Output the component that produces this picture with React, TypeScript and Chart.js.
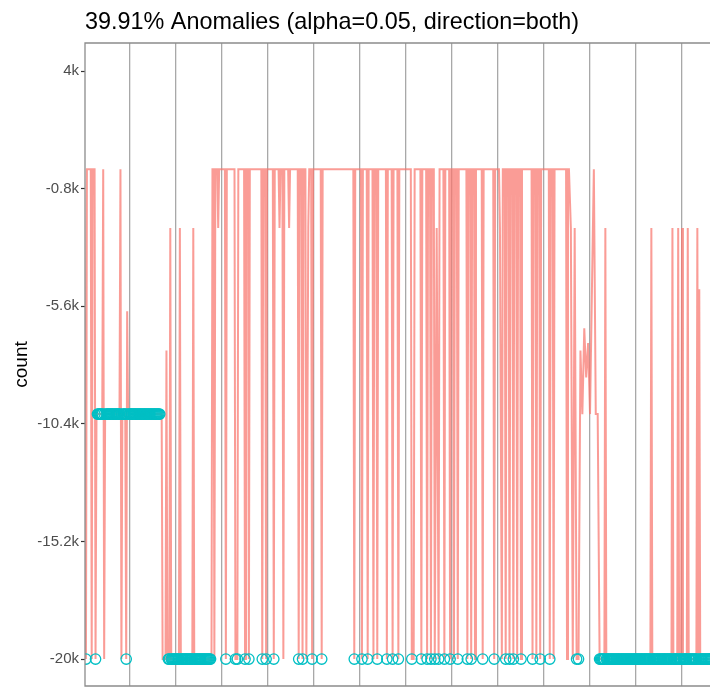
import React, { useEffect, useRef } from "react";
import { Chart, registerables } from "chart.js";

Chart.register(...registerables);

const TITLE = "39.91% Anomalies (alpha=0.05, direction=both)";
const Y_LABEL = "count";

// y axis ticks
const yTickValues = [-20000, -15200, -10400, -5600, -800, 4000];
const yTickLabels = ["-20k", "-15.2k", "-10.4k", "-5.6k", "-0.8k", "4k"];
// vertical grid lines (hours, one per day)
const xGridHours = [24, 48, 72, 96, 120, 144, 168, 192, 216, 240, 264, 288, 312];

// observed series (hour, count) at the readings where the level changes
const lineHours = [
  0, 1, 1.5, 3.5, 4, 4.5, 5.5, 6, 6.5, 9.5,
  10, 10.5, 11, 18.5, 19, 19.5, 20, 21.5, 22, 22.5,
  23, 40.5, 41, 42.5, 43, 43.5, 44.5, 45, 45.5, 49.5,
  50, 50.5, 56.5, 57, 57.5, 66.5, 67, 67.5, 68, 68.5,
  69.5, 70, 70.5, 73.5, 74, 74.5, 78.5, 79, 80, 80.5,
  83.5, 84, 84.5, 85.5, 86, 86.5, 92.5, 93, 93.5, 94.5,
  95, 95.5, 98.5, 99, 99.5, 101.5, 102, 102.5, 103.5, 104,
  104.5, 106.5, 107, 107.5, 111.5, 112, 112.5, 113.5, 114, 114.5,
  115.5, 116, 117, 117.5, 118.5, 119, 119.5, 123.5, 124, 124.5,
  140.5, 141, 141.5, 144.5, 145, 145.5, 147.5, 148, 148.5, 150.5,
  151, 151.5, 152.5, 153, 153.5, 157.5, 158, 158.5, 160.5, 161,
  161.5, 163.5, 164, 164.5, 170.5, 171, 172, 172.5, 175.5, 176,
  176.5, 178.5, 179, 179.5, 180.5, 181, 181.5, 182.5, 183, 184,
  185, 185.5, 187.5, 188, 188.5, 190.5, 191, 191.5, 192.5, 193,
  193.5, 194.5, 195, 195.5, 199.5, 200, 200.5, 201.5, 202, 202.5,
  203.5, 204, 204.5, 207.5, 208, 208.5, 213.5, 214, 214.5, 216.5,
  217, 218, 218.5, 219.5, 220, 220.5, 221.5, 222, 222.5, 223.5,
  224, 224.5, 225.5, 226, 226.5, 227.5, 228, 228.5, 233.5, 234,
  234.5, 235.5, 236, 236.5, 237.5, 238, 238.5, 242.5, 243, 243.5,
  244.5, 245, 245.5, 251.5, 252, 252.5, 253, 254, 255, 256,
  257, 258, 259, 260, 261, 262, 263, 264, 265, 266,
  267, 268, 269, 271.5, 272, 272.5, 295.5, 296, 296.5, 306.5,
  307, 307.5, 309.5, 310, 310.5, 311.5, 312, 312.5, 314.5, 315,
  315.5, 319.5, 320, 320.5, 321, 321.5, 330,
];
const lineCounts = [
  0, -20000, 0, 0, -20000, 0, 0, -20000, -10000, -10000,
  0, -20000, -10000, -10000, 0, -20000, -10000, -10000, -20000, -5800,
  -10000, -10000, -20000, -20000, -7400, -20000, -20000, -2400, -20000, -20000,
  -2400, -20000, -20000, -2400, -20000, -20000, 0, 0, -20000, 0,
  0, -2400, 0, 0, -20000, 0, 0, -20000, -20000, 0,
  0, -20000, 0, 0, -20000, 0, 0, -20000, 0, 0,
  -20000, 0, 0, -20000, 0, 0, -2400, 0, 0, -20000,
  0, 0, -2400, 0, 0, -20000, 0, 0, -20000, 0,
  0, -20000, -2400, 0, 0, -20000, 0, 0, -20000, 0,
  0, -20000, 0, 0, -20000, 0, 0, -20000, 0, 0,
  -20000, 0, 0, -20000, 0, 0, -20000, 0, 0, -20000,
  0, 0, -20000, 0, 0, -20000, -20000, 0, 0, -20000,
  0, 0, -20000, 0, 0, -20000, 0, 0, -20000, -2400,
  -20000, 0, 0, -20000, 0, 0, -20000, 0, 0, -20000,
  0, 0, -20000, 0, 0, -20000, 0, 0, -20000, 0,
  0, -20000, 0, 0, -20000, 0, 0, -20000, 0, 0,
  -2400, -20000, 0, 0, -20000, 0, 0, -20000, 0, 0,
  -20000, 0, 0, -20000, 0, 0, -20000, 0, 0, -20000,
  0, 0, -20000, 0, 0, -20000, 0, 0, -20000, 0,
  0, -20000, 0, 0, -20000, 0, 0, -2400, -20000, -2400,
  -20000, -20000, -7400, -10000, -6500, -8500, -7100, -10000, -4900, 0,
  -10000, -10000, -20000, -20000, -2400, -20000, -20000, -2400, -20000, -20000,
  -2400, -20000, -20000, -2400, -20000, -20000, -2400, -20000, -20000, -2400,
  -20000, -20000, -2400, -20000, -4900, -20000, -20000,
];

// anomalies flagged at count = -10000 (half-hourly readings)
const anomalyMidValue = -10000;
const anomalyMidHours = [
  7, 7.5, 8, 8.5, 9, 9.5, 10.5, 11.5, 12, 12.5, 13, 13.5, 14, 14.5, 15, 15.5,
  16, 16.5, 17, 17.5, 18, 18.5, 19.5, 20.5, 21, 21.5, 22.5, 23.5, 24, 24.5,
  25, 25.5, 26, 26.5, 27, 27.5, 28, 28.5, 29, 29.5, 30, 30.5, 31, 31.5, 32,
  32.5, 33, 33.5, 34, 34.5, 35, 35.5, 36, 36.5, 37, 37.5, 38, 38.5, 39, 39.5,
];
// anomalies flagged at count = -20000 (half-hourly readings)
const anomalyLowValue = -20000;
const anomalyLowHours = [
  1, 6, 22,
  44, 44.5, 45.5, 46, 46.5, 47, 47.5, 48, 48.5, 49, 49.5, 50.5, 51, 51.5, 52,
  52.5, 53, 53.5, 54, 54.5, 55, 55.5, 56, 56.5, 57.5, 58, 58.5, 59, 59.5, 60,
  60.5, 61, 61.5, 62, 62.5, 63, 63.5, 64, 64.5, 65, 65.5, 66,
  74, 79, 80, 84, 86, 93, 95, 99, 112, 114, 119, 124, 141, 145, 148, 153, 158,
  161, 164, 171, 176, 179, 181, 183, 185, 188, 191, 195, 200, 202, 208, 214,
  220, 222, 224, 228, 234, 238, 243, 257, 258,
  269, 269.5, 270, 270.5, 271, 271.5, 272.5, 273, 273.5, 274, 274.5, 275,
  275.5, 276, 276.5, 277, 277.5, 278, 278.5, 279, 279.5, 280, 280.5, 281,
  281.5, 282, 282.5, 283, 283.5, 284, 284.5, 285, 285.5, 286, 286.5, 287,
  287.5, 288, 288.5, 289, 289.5, 290, 290.5, 291, 291.5, 292, 292.5, 293,
  293.5, 294, 294.5, 295, 295.5, 296.5, 297, 297.5, 298, 298.5, 299, 299.5,
  300, 300.5, 301, 301.5, 302, 302.5, 303, 303.5, 304, 304.5, 305, 305.5,
  306, 306.5, 307.5, 308, 308.5, 309, 309.5, 310.5, 311, 311.5, 312.5, 313,
  313.5, 314, 314.5, 315.5, 316, 316.5, 317, 317.5, 318, 318.5, 319, 319.5,
  320.5, 321.5, 322, 322.5, 323, 323.5, 324, 324.5, 325, 325.5, 326, 326.5,
  327, 327.5,
];

const FONT = "'Liberation Sans', Arial, Helvetica, sans-serif";

export default function App() {
  const ref = useRef<HTMLCanvasElement>(null);

  useEffect(() => {
    const canvas = ref.current;
    if (!canvas) return;

    const linePts = lineHours.map((h, i) => ({ x: h, y: lineCounts[i] }));
    const anomPts = [
      ...anomalyMidHours.map((h) => ({ x: h, y: anomalyMidValue })),
      ...anomalyLowHours.map((h) => ({ x: h, y: anomalyLowValue })),
    ];

    const framePlugin = {
      id: "frame",
      afterDraw(chart: any) {
        const { ctx, chartArea } = chart;
        const { left, top, right, bottom } = chartArea;
        ctx.save();
        ctx.strokeStyle = "#8c8c8c";
        ctx.lineWidth = 1.3;
        ctx.beginPath();
        ctx.moveTo(right + 2, top);
        ctx.lineTo(left, top);
        ctx.lineTo(left, bottom);
        ctx.lineTo(right + 2, bottom);
        ctx.stroke();
        ctx.fillStyle = "#000";
        ctx.font = `23.4px ${FONT}`;
        ctx.textAlign = "left";
        ctx.textBaseline = "alphabetic";
        ctx.fillText(TITLE, left, 29);
        ctx.restore();
      },
    };

    const chart = new Chart(canvas, {
      type: "scatter",
      data: {
        datasets: [
          {
            label: "anomalies",
            data: anomPts,
            showLine: false,
            pointRadius: 5.2,
            pointBorderWidth: 1.3,
            borderWidth: 1.3,
            borderColor: "#00BFC4",
            backgroundColor: "rgba(0,0,0,0)",
            pointBackgroundColor: "rgba(0,0,0,0)",
            pointBorderColor: "#00BFC4",
            clip: 0,
            order: 0,
          } as any,
          {
            label: "count",
            data: linePts,
            showLine: true,
            pointRadius: 0,
            borderColor: "rgba(248,118,109,0.72)",
            borderWidth: 2,
            tension: 0,
            clip: 0,
            order: 1,
          } as any,
        ],
      },
      plugins: [framePlugin],
      options: {
        responsive: false,
        animation: false,
        devicePixelRatio: 1,
        layout: {
          autoPadding: false,
          padding: { top: 43, left: 0, right: 0, bottom: 2 },
        },
        plugins: {
          legend: { display: false },
          title: { display: false },
          tooltip: { enabled: false },
        },
        scales: {
          x: {
            type: "linear",
            min: 0.5,
            max: 326.6,
            afterBuildTicks: (axis: any) => {
              axis.ticks = xGridHours.map((v) => ({ value: v }));
            },
            afterFit: (scale: any) => {
              scale.height = 0;
              scale.paddingLeft = 0;
              scale.paddingRight = 0;
            },
            ticks: { display: false, autoSkip: false },
            grid: {
              color: "#a8a8a8",
              lineWidth: 1.3,
              drawTicks: false,
            },
            border: { display: false },
          },
          y: {
            type: "linear",
            min: -21100,
            max: 5150,
            afterBuildTicks: (axis: any) => {
              axis.ticks = yTickValues.map((v) => ({ value: v }));
            },
            afterFit: (scale: any) => {
              scale.width = 85;
              scale.paddingTop = 0;
              scale.paddingBottom = 0;
            },
            ticks: {
              autoSkip: false,
              padding: 2,
              color: "#4d4d4d",
              font: { family: FONT, size: 15 },
              callback: (value: any) => {
                const i = yTickValues.indexOf(Number(value));
                return i >= 0 ? yTickLabels[i] : "";
              },
            },
            grid: {
              drawOnChartArea: false,
              drawTicks: true,
              tickLength: 4,
              tickColor: "#333333",
              tickWidth: 1.2,
            },
            border: { display: false },
            title: {
              display: true,
              text: Y_LABEL,
              color: "#000",
              font: { family: FONT, size: 19 },
              padding: { top: 10, bottom: 0 },
            },
          },
        },
      },
    });

    return () => chart.destroy();
  }, []);

  return (
    <div
      style={{
        position: "fixed",
        left: 0,
        top: 0,
        width: 710,
        height: 688,
        background: "#fff",
        overflow: "hidden",
      }}
    >
      <canvas
        ref={ref}
        width={710}
        height={688}
        style={{ display: "block", width: 710, height: 688 }}
      />
    </div>
  );
}
